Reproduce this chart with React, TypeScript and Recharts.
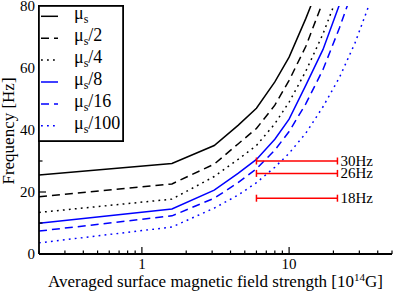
import { LineChart, Line, XAxis, YAxis, Legend } from "recharts";

// field strength grid, units of 10^14 G
const FIELD = [0.2, 1.6, 3.1, 4.5, 6, 8, 10, 13, 17, 22, 28, 36, 48];

// frequency [Hz] at each field value, one array per shear modulus
const MU_S = [25.5, 29.2, 35, 41.5, 47, 55.5, 63.5, 76, 90];
const MU_S2 = [18.5, 22.6, 29, 35.5, 40.5, 48, 56, 67, 81.5];
const MU_S4 = [13.4, 17.7, 25, 30.5, 35, 42, 49, 59, 71, 85];
const MU_S8 = [9.9, 14.5, 20.6, 26, 30.5, 37, 43.5, 54.5, 66, 80.5, 95];
const MU_S16 = [7.4, 12.3, 18, 23, 27.5, 33.5, 39.5, 48.5, 59.5, 73, 87];
const MU_S100 = [3.6, 8.7, 14.8, 19, 23, 28, 32.5, 39, 47.5, 57, 68, 82];

// observed QPO frequencies and the field range they span
const QPO_FREQ = [30, 26, 18];
const QPO_FIELD = [6, 21.3];

const X_TICKS = [0.2, 0.3, 0.4, 0.5, 0.6, 0.7, 0.8, 0.9, 1, 2, 3, 4, 5, 6, 7, 8, 9, 10, 20, 30, 40, 50];
const X_LABELED = [1, 10];
const Y_TICKS = [0, 10, 20, 30, 40, 50, 60, 70, 80];

const FONT = "'Liberation Serif', 'DejaVu Serif', serif";

const SERIES = [
  { key: "s", suffix: "", values: MU_S, color: "#000", dash: undefined },
  { key: "s2", suffix: "/2", values: MU_S2, color: "#000", dash: "8 5" },
  { key: "s4", suffix: "/4", values: MU_S4, color: "#000", dash: "1.8 4.2" },
  { key: "s8", suffix: "/8", values: MU_S8, color: "#0000ff", dash: undefined },
  { key: "s16", suffix: "/16", values: MU_S16, color: "#0000ff", dash: "8 5" },
  { key: "s100", suffix: "/100", values: MU_S100, color: "#0000ff", dash: "1.8 4.2" },
];

const toPoints = (vals: number[]) => vals.map((f, i) => ({ b: FIELD[i], f }));

function BottomTick({ x, y, payload }: any) {
  const major = X_LABELED.includes(payload.value);
  return (
    <g>
      <line x1={x} x2={x} y1={y} y2={y - (major ? 7 : 3.5)} stroke="#000" strokeWidth={1.2} />
      {major && (
        <text x={x} y={y + 15} textAnchor="middle" fontSize={15} fontFamily={FONT} fill="#000">
          {payload.value}
        </text>
      )}
    </g>
  );
}

function TopTick({ x, y, payload }: any) {
  const major = X_LABELED.includes(payload.value);
  return <line x1={x} x2={x} y1={y} y2={y + (major ? 7 : 3.5)} stroke="#000" strokeWidth={1.2} />;
}

function LeftTick({ x, y, payload }: any) {
  const major = payload.value % 20 === 0;
  return (
    <g>
      <line x1={x} x2={x + (major ? 7 : 3.5)} y1={y} y2={y} stroke="#000" strokeWidth={1.2} />
      {major && (
        <text x={x - 4} y={y + 5} textAnchor="end" fontSize={15} fontFamily={FONT} fill="#000">
          {payload.value}
        </text>
      )}
    </g>
  );
}

function RightTick({ x, y, payload }: any) {
  const major = payload.value % 20 === 0;
  return <line x1={x} x2={x - (major ? 7 : 3.5)} y1={y} y2={y} stroke="#000" strokeWidth={1.2} />;
}

function XLabel({ viewBox }: any) {
  const cx = viewBox.x + viewBox.width / 2;
  return (
    <text x={cx} y={viewBox.y + 33} textAnchor="middle" fontSize={17} fontFamily={FONT} fill="#000">
      Averaged surface magnetic field strength [10
      <tspan dy={-6} fontSize={11}>14</tspan>
      <tspan dy={6}>G]</tspan>
    </text>
  );
}

function YLabel() {
  return (
    <text x={14} y={131} transform="rotate(-90, 14, 131)" textAnchor="middle" fontSize={17} fontFamily={FONT} fill="#000">
      Frequency [Hz]
    </text>
  );
}

function LegendBox() {
  return (
    <svg width={86} height={137} style={{ display: "block" }}>
      <rect x={0.9} y={0.9} width={84.2} height={135.2} fill="#fff" stroke="#000" strokeWidth={1.8} />
      {SERIES.map((s, i) => {
        const cy = 11.3 + 21.9 * i;
        return (
          <g key={s.key}>
            <line x1={3} x2={20} y1={cy} y2={cy} stroke={s.color} strokeWidth={1.5} strokeDasharray={s.dash} />
            <text x={36} y={cy + 3} fontSize={18} fontFamily={FONT} fill="#000">
              μ<tspan dy={4} fontSize={12}>s</tspan>
              <tspan dy={-4}>{s.suffix}</tspan>
            </text>
          </g>
        );
      })}
    </svg>
  );
}

function QpoCap(props: any) {
  const { cx, cy, index, text } = props;
  return (
    <g key={`cap-${text}-${index}`}>
      <line x1={cx} x2={cx} y1={cy - 3.5} y2={cy + 3.5} stroke="#ff0000" strokeWidth={1.5} />
      {index === 1 && (
        <text x={cx + 3} y={cy + 5} fontSize={15} fontFamily={FONT} fill="#000">
          {text}
        </text>
      )}
    </g>
  );
}

export default function App() {
  return (
    <>
      <style>{"body{margin:0}"}</style>
      <LineChart width={395} height={295} margin={{ top: 6, right: 3, bottom: 0, left: 0 }} style={{ fontFamily: FONT }}>
        <XAxis
          dataKey="b"
          type="number"
          scale="log"
          domain={[0.2, 50]}
          allowDataOverflow
          ticks={X_TICKS}
          interval={0}
          height={41}
          tickSize={0}
          tickMargin={0}
          tickLine={false}
          tick={<BottomTick />}
          axisLine={{ stroke: "#000", strokeWidth: 1.8 }}
          label={<XLabel />}
        />
        <XAxis
          xAxisId="top"
          orientation="top"
          dataKey="b"
          type="number"
          scale="log"
          domain={[0.2, 50]}
          allowDataOverflow
          ticks={X_TICKS}
          interval={0}
          height={0}
          tickSize={0}
          tickMargin={0}
          tickLine={false}
          tick={<TopTick />}
          axisLine={{ stroke: "#000", strokeWidth: 1.8 }}
        />
        <YAxis
          type="number"
          domain={[0, 80]}
          allowDataOverflow
          ticks={Y_TICKS}
          interval={0}
          width={39}
          tickSize={0}
          tickMargin={0}
          tickLine={false}
          tick={<LeftTick />}
          axisLine={{ stroke: "#000", strokeWidth: 1.8 }}
          label={<YLabel />}
        />
        <YAxis
          yAxisId="right"
          orientation="right"
          type="number"
          domain={[0, 80]}
          allowDataOverflow
          ticks={Y_TICKS}
          interval={0}
          width={0}
          tickSize={0}
          tickMargin={0}
          tickLine={false}
          tick={<RightTick />}
          axisLine={{ stroke: "#000", strokeWidth: 1.8 }}
        />
        {SERIES.map((s) => (
          <Line
            key={s.key}
            data={toPoints(s.values)}
            dataKey="f"
            type="linear"
            stroke={s.color}
            strokeWidth={1.5}
            strokeDasharray={s.dash}
            dot={false}
            activeDot={false}
            isAnimationActive={false}
          />
        ))}
        {QPO_FREQ.map((f) => (
          <Line
            key={`qpo-${f}`}
            data={QPO_FIELD.map((b) => ({ b, f }))}
            dataKey="f"
            type="linear"
            stroke="#ff0000"
            strokeWidth={1.5}
            dot={(p: any) => <QpoCap {...p} key={`cap-${f}-${p.index}`} text={`${f}Hz`} />}
            activeDot={false}
            isAnimationActive={false}
          />
        ))}
        <Legend
          layout="horizontal"
          verticalAlign="middle"
          align="center"
          content={() => <LegendBox />}
          wrapperStyle={{ left: 38, top: 5, width: 86, height: 137 }}
        />
      </LineChart>
    </>
  );
}
